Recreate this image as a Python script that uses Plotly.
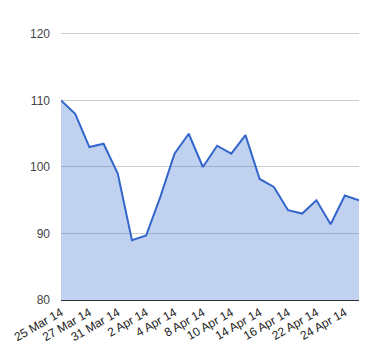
import plotly.graph_objects as go

dates = ["25 Mar 14", "26 Mar 14", "27 Mar 14", "28 Mar 14", "31 Mar 14",
         "1 Apr 14", "2 Apr 14", "3 Apr 14", "4 Apr 14", "7 Apr 14",
         "8 Apr 14", "9 Apr 14", "10 Apr 14", "11 Apr 14", "14 Apr 14",
         "15 Apr 14", "16 Apr 14", "17 Apr 14", "22 Apr 14", "23 Apr 14",
         "24 Apr 14", "25 Apr 14"]
values = [110, 108, 103, 103.5, 99, 89, 89.7, 95.5, 102, 105,
          100, 103.2, 102, 104.8, 98.2, 97, 93.5, 93, 95, 91.4,
          95.7, 95]
tick_labels = dates[::2]
y_ticks = [80, 90, 100, 110, 120]

fig = go.Figure()
fig.add_trace(go.Scatter(
    x=dates, y=values, mode="lines",
    line=dict(color="#3366cc", width=2),
    fill="tozeroy", fillcolor="rgba(51,102,204,0.3)",
    hoverinfo="skip",
))
fig.update_layout(
    width=380, height=360,
    margin=dict(l=59, r=21, t=27, b=60),
    paper_bgcolor="white", plot_bgcolor="white",
    showlegend=False,
    font=dict(family="Arial, Liberation Sans, sans-serif", size=12, color="#222"),
)
fig.update_xaxes(
    type="category", range=[0, len(dates) - 1],
    tickmode="array", tickvals=tick_labels, ticktext=tick_labels,
    tickangle=-30, showgrid=False, showline=True, linecolor="#333", linewidth=1,
    ticks="", tickfont=dict(size=12, color="#222"),
)
fig.update_yaxes(
    range=[80, 121.05], tickvals=y_ticks, showgrid=True, gridcolor="#cccccc",
    gridwidth=1, zeroline=False, showline=False, ticks="",
    tickfont=dict(size=12, color="#444"), ticklabelstandoff=10,
)
fig.write_html("out.html")
